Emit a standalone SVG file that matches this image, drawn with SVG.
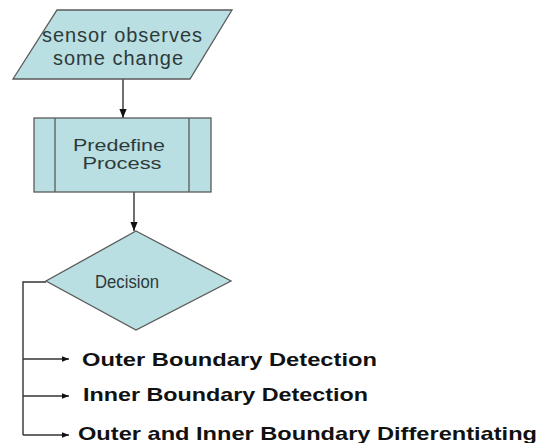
<svg xmlns="http://www.w3.org/2000/svg" width="539" height="443" viewBox="0 0 539 443">
<defs>
<style>
.shape{fill:#b9dfe2;stroke:#5a5a5a;stroke-width:1.3}
.lbl{font-family:"Liberation Sans",Arial,sans-serif;fill:#2e3a3a;text-anchor:middle}
.out{font-family:"Liberation Sans",Arial,sans-serif;font-weight:bold;font-size:19px;fill:#111}
.conn{fill:none;stroke:#333;stroke-width:1.4}
</style>
<marker id="arr" viewBox="0 0 10 10" refX="10" refY="5" markerWidth="7" markerHeight="7" markerUnits="userSpaceOnUse" orient="auto">
<path d="M0,1 L10,5 L0,9 Z" fill="#111"/>
</marker>
<marker id="arr2" viewBox="0 0 10 10" refX="10" refY="5" markerWidth="9" markerHeight="9" markerUnits="userSpaceOnUse" orient="auto">
<path d="M0,1 L10,5 L0,9 Z" fill="#111"/>
</marker>
</defs>
<rect width="539" height="443" fill="#fff"/>
<g id="connectors">
<path class="conn" d="M123,79 L123,118" marker-end="url(#arr2)"/>
<path class="conn" d="M134,192 L134,231" marker-end="url(#arr2)"/>
<path class="conn" d="M46,282 L23,282 L23,435"/>
<path class="conn" d="M23,359 L69,359" marker-end="url(#arr)"/>
<path class="conn" d="M23,396 L69,396" marker-end="url(#arr)"/>
<path class="conn" d="M23,435 L69,435" marker-end="url(#arr)"/>
</g>
<g id="node-sensor">
<polygon class="shape" points="57,10 232,10 190,79 13,79"/>
<text class="lbl" x="122" y="42" font-size="20" textLength="160">sensor observes</text>
<text class="lbl" x="118" y="65" font-size="20" textLength="130">some change</text>
</g>
<g id="node-predefine">
<rect class="shape" x="34" y="118" width="177" height="74"/>
<line class="shape" x1="55" y1="118" x2="55" y2="192"/>
<line class="shape" x1="189" y1="118" x2="189" y2="192"/>
<text class="lbl" x="119" y="151" font-size="16" textLength="92" lengthAdjust="spacingAndGlyphs">Predefine</text>
<text class="lbl" x="122" y="169" font-size="16" textLength="79" lengthAdjust="spacingAndGlyphs">Process</text>
</g>
<g id="node-decision">
<polygon class="shape" points="136,231 231,281 136,330 46,281"/>
<text class="lbl" x="127" y="288" font-size="18" textLength="64" lengthAdjust="spacingAndGlyphs">Decision</text>
</g>
<g id="outputs">
<text class="out" x="82" y="366" textLength="295" lengthAdjust="spacingAndGlyphs">Outer Boundary Detection</text>
<text class="out" x="83" y="401" textLength="285" lengthAdjust="spacingAndGlyphs">Inner Boundary Detection</text>
<text class="out" x="78" y="440" textLength="459" lengthAdjust="spacingAndGlyphs">Outer and Inner Boundary Differentiating</text>
</g>
</svg>
